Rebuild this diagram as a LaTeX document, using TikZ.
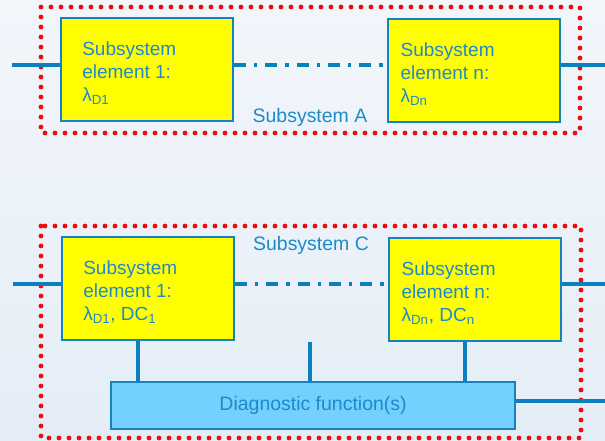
\documentclass[tikz,border=0pt]{standalone}
\usepackage{fontspec}
\setmainfont{Liberation Sans}
\begin{document}
\begin{tikzpicture}[x=0.75pt,y=-0.75pt,
  linecol/.style={draw={rgb,255:red,10;green,128;blue,192}},
  wire/.style={linecol,line width=2.3pt},
  dashwire/.style={wire,dash pattern=on 9pt off 6pt on 2.5pt off 6pt},
  element/.style={draw={rgb,255:red,20;green,130;blue,195},line width=1.6pt,
    fill={rgb,255:red,255;green,255;blue,0},anchor=north west,
    minimum width=129pt,minimum height=77pt},
  elemtext/.style={anchor=west,inner sep=0pt,align=left,
    text={rgb,255:red,30;green,138;blue,200},
    font=\fontsize{14.25pt}{17.25pt}\selectfont},
  diagbox/.style={draw={rgb,255:red,20;green,130;blue,195},line width=1.6pt,
    fill={rgb,255:red,115;green,208;blue,255},anchor=north west,
    minimum width=303pt,minimum height=35pt,
    text={rgb,255:red,30;green,138;blue,200},
    font=\fontsize{14.6pt}{17pt}\selectfont},
  boundary/.style={draw={rgb,255:red,240;green,10;blue,10},line width=3.6pt,
    line cap=round,dash pattern=on 0pt off 7.5pt},
  caption/.style={text={rgb,255:red,30;green,138;blue,200},
    font=\fontsize{14.6pt}{17pt}\selectfont,inner sep=0pt,anchor=base}]

% background
\shade[top color={rgb,255:red,242;green,246;blue,251},
       bottom color={rgb,255:red,228;green,237;blue,246}]
  (0,0) rectangle (605,440);
\useasboundingbox (0,0) rectangle (605,440);

% ---------- Subsystem A ----------
\draw[boundary] (41,7) rectangle (580,133);
\node[element] (a1) at (60,17) {};
\node[element] (an) at (387,18) {};
\node[elemtext] (a1t) at ([xshift=16.5pt,yshift=-3pt]a1.west)
  {Subsystem\\element 1:\\λ\textsubscript{D1}};
\node[elemtext] (ant) at ([xshift=10pt,yshift=-3pt]an.west)
  {Subsystem\\element n:\\λ\textsubscript{Dn}};
\node[caption] (labA) at (310,122) {Subsystem A};

\coordinate (ain) at (12,65);
\coordinate (aout) at (605,65);
\draw[wire] (ain) -- (a1.west |- ain);
\draw[dashwire] (a1.east |- ain) -- (an.west |- ain);
\draw[wire] (an.east |- ain) -- (aout);

% ---------- Subsystem C ----------
\draw[boundary] (41,226) rectangle (581,438);
\node[element] (c1) at (61,236) {};
\node[element] (cn) at (388,237) {};
\node[elemtext] (c1t) at ([xshift=16.5pt,yshift=-3pt]c1.west)
  {Subsystem\\element 1:\\λ\textsubscript{D1}, DC\textsubscript{1}};
\node[elemtext] (cnt) at ([xshift=10pt,yshift=-3pt]cn.west)
  {Subsystem\\element n:\\λ\textsubscript{Dn}, DC\textsubscript{n}};
\node[caption] (labC) at (311,250) {Subsystem C};
\node[diagbox] (diag) at (110,381) {Diagnostic function(s)};

\coordinate (cin) at (13,284);
\coordinate (cout) at (605,284);
\draw[wire] (cin) -- (c1.west |- cin);
\draw[dashwire] (c1.east |- cin) -- (cn.west |- cin);
\draw[wire] (cn.east |- cin) -- (cout);

\coordinate (tap) at (310,342);
\coordinate (dout) at (605,401);
\draw[wire] (c1.south -| 138,0) -- (diag.north -| 138,0);
\draw[wire] (tap) -- (diag.north -| tap);
\draw[wire] (cn.south -| 465,0) -- (diag.north -| 465,0);
\draw[wire] (diag.east |- dout) -- (dout);
\end{tikzpicture}
\end{document}
